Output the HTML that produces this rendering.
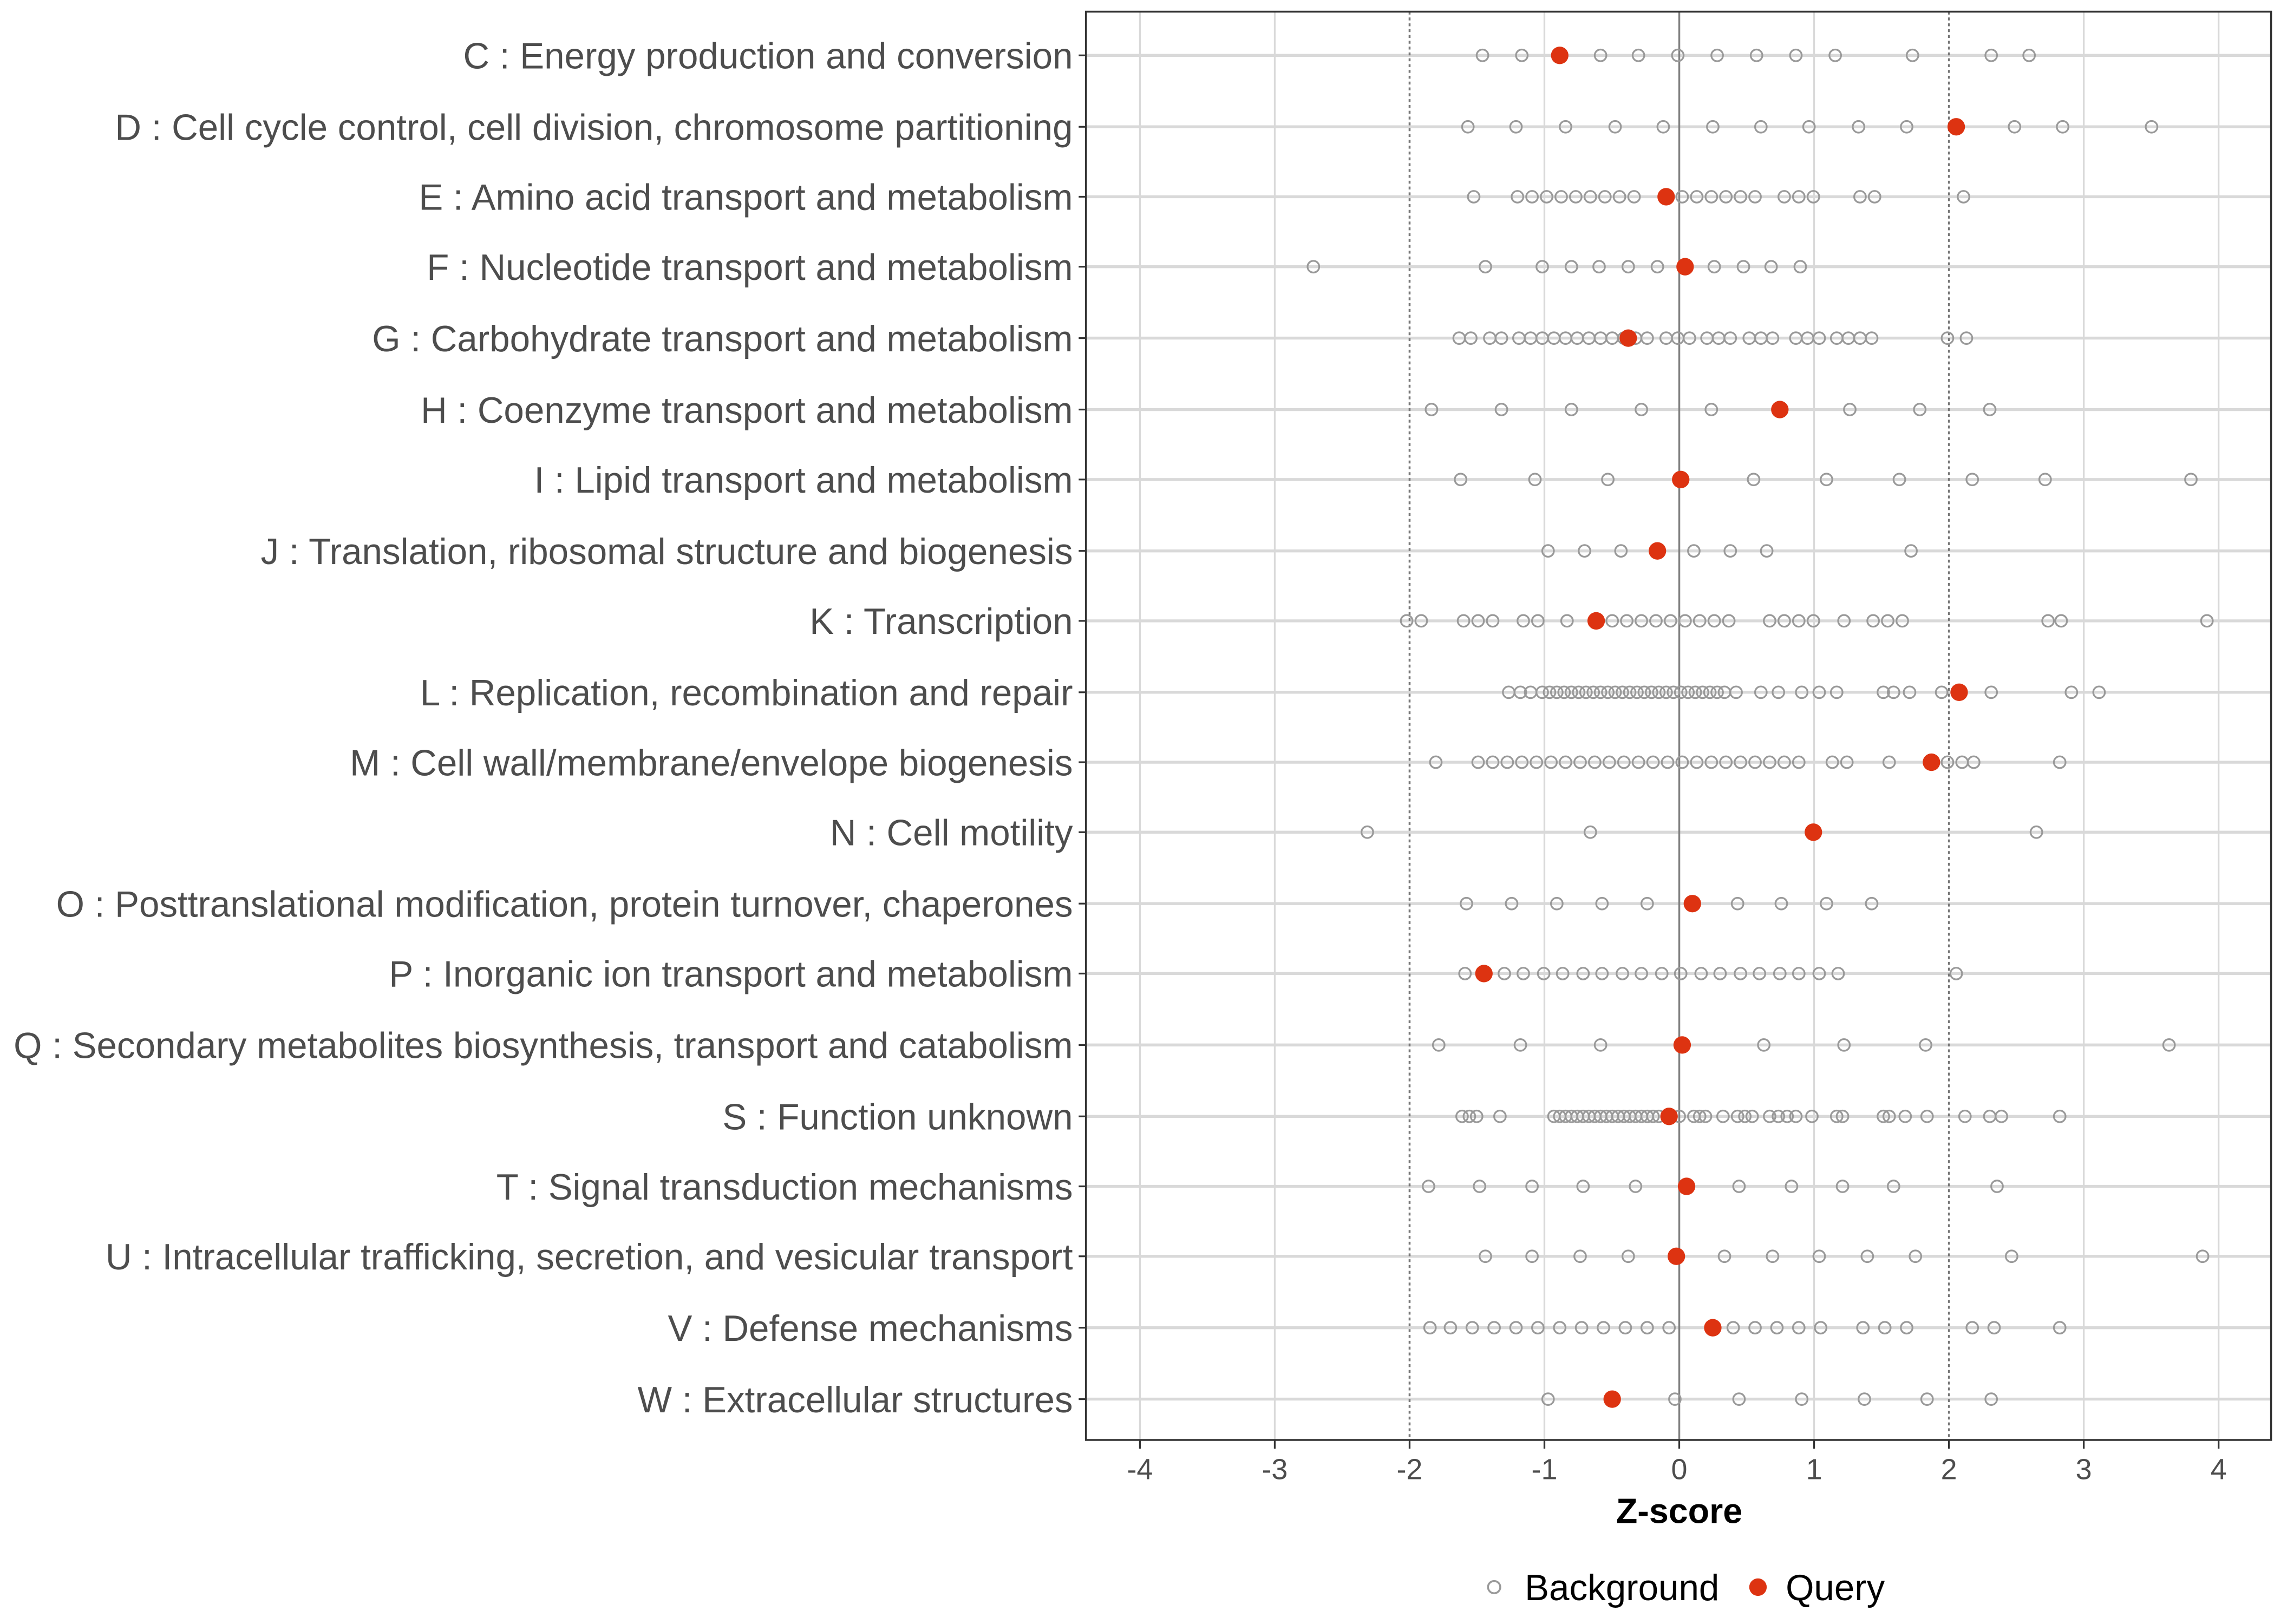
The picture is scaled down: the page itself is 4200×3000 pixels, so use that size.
<!DOCTYPE html>
<html><head><meta charset="utf-8"><style>html,body{margin:0;padding:0;background:#fff}svg{display:block}</style></head>
<body>
<svg id="s" xmlns="http://www.w3.org/2000/svg" width="4200" height="3000" viewBox="0 0 1560 1114.29" font-family="Liberation Sans, sans-serif">
<rect width="1560" height="1114.29" fill="#fff"/>
<g id="grid"></g>
<g id="pts"></g>
<g id="labels" font-size="25" fill="#4d4d4d" text-anchor="end"></g>
<rect x="745" y="8" width="813" height="980" fill="none" stroke="#333" stroke-width="1.3"/>
<g font-size="20" fill="#4d4d4d" text-anchor="middle" id="xt"></g>
<text x="1152" y="1045" font-size="24" font-weight="bold" text-anchor="middle" fill="#000">Z-score</text>
<circle cx="1025" cy="1089" r="4.2" fill="none" stroke="#999" stroke-width="1.3"/>
<text x="1046" y="1098" font-size="25" fill="#000">Background</text>
<circle cx="1206" cy="1089" r="6" fill="#dd3311"/>
<text x="1225" y="1098" font-size="25" fill="#000">Query</text>
</svg>
<script>
var NS="http://www.w3.org/2000/svg";
function el(p,t,a,txt){var e=document.createElementNS(NS,t);for(var k in a)e.setAttribute(k,a[k]);if(txt)e.textContent=txt;document.getElementById(p).appendChild(e);return e;}
var rows=[
["C : Energy production and conversion",38,1070,[1017,1044,1098,1124,1151,1178,1205,1232,1259,1312,1366,1392]],
["D : Cell cycle control, cell division, chromosome partitioning",87,1342,[1007,1040,1074,1108,1141,1175,1208,1241,1275,1308,1382,1415,1476]],
["E : Amino acid transport and metabolism",135,1143,[1011,1041,1051,1061,1071,1081,1091,1101,1111,1121,1154,1164,1174,1184,1194,1204,1224,1234,1244,1276,1286,1347]],
["F : Nucleotide transport and metabolism",183,1156,[901,1019,1058,1078,1097,1117,1137,1176,1196,1215,1235]],
["G : Carbohydrate transport and metabolism",232,1117,[1001,1009,1022,1030,1042,1050,1058,1066,1074,1082,1090,1098,1106,1114,1122,1130,1143,1151,1159,1171,1179,1187,1200,1208,1216,1232,1240,1248,1260,1268,1276,1284,1336,1349]],
["H : Coenzyme transport and metabolism",281,1221,[982,1030,1078,1126,1174,1269,1317,1365]],
["I : Lipid transport and metabolism",329,1153,[1002,1053,1103,1203,1253,1303,1353,1403,1503]],
["J : Translation, ribosomal structure and biogenesis",378,1137,[1062,1087,1112,1162,1187,1212,1311]],
["K : Transcription",426,1095,[965,975,1004,1014,1024,1045,1055,1075,1106,1116,1126,1136,1146,1156,1166,1176,1186,1214,1224,1234,1244,1265,1285,1295,1305,1405,1414,1514]],
["L : Replication, recombination and repair",475,1344,[1035,1043,1050,1058,1063,1068,1073,1078,1083,1088,1093,1098,1103,1108,1113,1118,1123,1128,1133,1138,1143,1148,1153,1158,1163,1168,1173,1178,1183,1191,1208,1220,1236,1248,1260,1292,1299,1310,1332,1366,1421,1440]],
["M : Cell wall/membrane/envelope biogenesis",523,1325,[985,1014,1024,1034,1044,1054,1064,1074,1084,1094,1104,1114,1124,1134,1144,1154,1164,1174,1184,1194,1204,1214,1224,1234,1257,1267,1296,1336,1346,1354,1413]],
["N : Cell motility",571,1244,[938,1091,1397]],
["O : Posttranslational modification, protein turnover, chaperones",620,1161,[1006,1037,1068,1099,1130,1192,1222,1253,1284]],
["P : Inorganic ion transport and metabolism",668,1018,[1005,1032,1045,1059,1072,1086,1099,1113,1126,1140,1153,1167,1180,1194,1207,1221,1234,1248,1261,1342]],
["Q : Secondary metabolites biosynthesis, transport and catabolism",717,1154,[987,1043,1098,1210,1265,1321,1488]],
["S : Function unknown",766,1145,[1003,1008,1013,1029,1066,1070,1074,1078,1082,1086,1090,1094,1098,1102,1106,1110,1114,1118,1122,1126,1130,1134,1138,1152,1162,1166,1170,1182,1192,1197,1202,1214,1220,1226,1232,1243,1260,1264,1292,1296,1307,1322,1348,1365,1373,1413]],
["T : Signal transduction mechanisms",814,1157,[980,1015,1051,1086,1122,1193,1229,1264,1299,1370]],
["U : Intracellular trafficking, secretion, and vesicular transport",862,1150,[1019,1051,1084,1117,1183,1216,1248,1281,1314,1380,1511]],
["V : Defense mechanisms",911,1175,[981,995,1010,1025,1040,1055,1070,1085,1100,1115,1130,1145,1189,1204,1219,1234,1249,1278,1293,1308,1353,1368,1413]],
["W : Extracellular structures",960,1106,[1062,1149,1193,1236,1279,1322,1366]]
];
for(var i=-4;i<=4;i++){var x=1152+i*92.5;
 if(i!==0&&Math.abs(i)!==2)el("grid","line",{x1:x,x2:x,y1:8,y2:988,stroke:"#d9d9d9","stroke-width":1.2});
 el("xt","line",{x1:x,x2:x,y1:988,y2:994,stroke:"#333","stroke-width":1.2});
 el("xt","text",{x:x,y:1015},String(i));}
rows.forEach(function(r){
 el("grid","line",{x1:745,x2:1558,y1:r[1],y2:r[1],stroke:"#d9d9d9","stroke-width":2});
 el("labels","text",{x:736,y:r[1]+9},r[0]);
 el("labels","line",{x1:740,x2:745,y1:r[1],y2:r[1],stroke:"#333","stroke-width":1.2});
});
el("grid","line",{x1:1152,x2:1152,y1:8,y2:988,stroke:"#808080","stroke-width":1.3});
el("grid","line",{x1:967,x2:967,y1:8,y2:988,stroke:"#777","stroke-width":1.3,"stroke-dasharray":"2,2"});
el("grid","line",{x1:1337,x2:1337,y1:8,y2:988,stroke:"#777","stroke-width":1.3,"stroke-dasharray":"2,2"});
rows.forEach(function(r){
 r[3].forEach(function(x){el("pts","circle",{cx:x,cy:r[1],r:4,fill:"none",stroke:"#999","stroke-width":1.2});});
 el("pts","circle",{cx:r[2],cy:r[1],r:6,fill:"#dd3311"});
});
</script>
</body></html>
